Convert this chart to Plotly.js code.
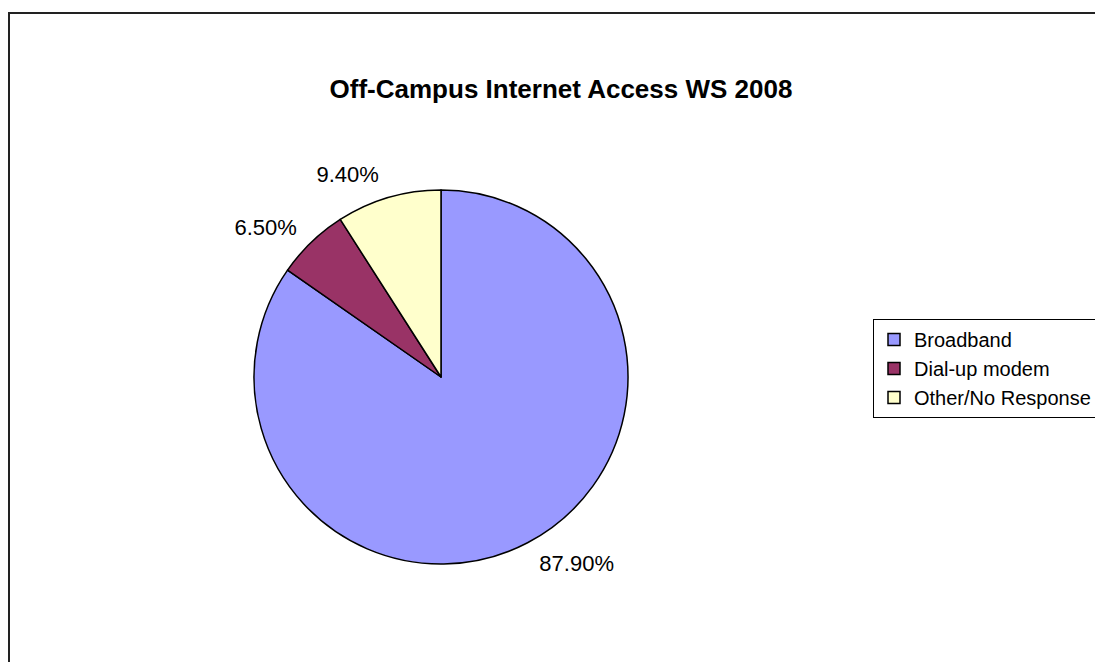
<!DOCTYPE html>
<html>
<head>
<meta charset="utf-8">
<script src="https://cdn.plot.ly/plotly-3.0.1.min.js"></script>
<style>
html,body{margin:0;padding:0;background:#fff;overflow:hidden;width:1095px;height:662px;}
#frame{position:absolute;left:8px;top:12px;border-left:2px solid #222;border-top:2px solid #222;width:1120px;height:680px;}
#chart{width:1120px;height:680px;}
</style>
</head>
<body>
<div id="frame"><div id="chart"></div></div>
<script>
const categories = ["Broadband", "Dial-up modem", "Other/No Response"];
const values = [87.9, 6.5, 9.4];
const colors = ["#9999FF", "#993366", "#FFFFCC"];
const chartTitle = "Off-Campus Internet Access WS 2008";

const W = 1120, H = 680;
const cx = 431, cy = 363, r = 187;   // pie centre / radius (px inside frame)
const rLabel = 199;                  // radius that the outside labels hang off
const FONT = "Liberation Sans, Arial, sans-serif";

function dom(rad) {
  return {x: [(cx - rad) / W, (cx + rad) / W], y: [1 - (cy + rad) / H, 1 - (cy - rad) / H]};
}

const pie = {
  type: "pie",
  labels: categories,
  values: values,
  sort: false,
  direction: "clockwise",
  rotation: 0,
  marker: {colors: colors, line: {color: "#000", width: 1.5}},
  textinfo: "none",
  hoverinfo: "label+value",
  domain: dom(r),
  automargin: false
};

const labelsPie = {
  type: "pie",
  labels: categories,
  values: values,
  sort: false,
  direction: "clockwise",
  rotation: 0,
  showlegend: false,
  marker: {colors: ["rgba(0,0,0,0)", "rgba(0,0,0,0)", "rgba(0,0,0,0)"], line: {width: 0}},
  textposition: "outside",
  texttemplate: "%{value:.2f}%",
  textfont: {family: FONT, size: 22, color: "#000"},
  hoverinfo: "skip",
  domain: dom(rLabel),
  automargin: false
};

const layout = {
  width: W, height: H,
  margin: {l: 0, r: 0, t: 0, b: 0},
  paper_bgcolor: "#fff",
  font: {family: FONT, color: "#000"},
  title: {
    text: "<b>" + chartTitle + "</b>",
    font: {family: FONT, size: 26, color: "#000"},
    x: 551 / W, xanchor: "center", y: 1 - 75 / H, yanchor: "middle"
  },
  showlegend: true,
  legend: {
    x: 863 / W, xanchor: "left", y: 1 - 305 / H, yanchor: "top",
    bordercolor: "#000", borderwidth: 1, bgcolor: "#fff",
    font: {family: FONT, size: 20, color: "#000"},
    itemwidth: 30
  }
};

Plotly.newPlot("chart", [pie, labelsPie], layout, {displayModeBar: false, staticPlot: true});
</script>
</body>
</html>
